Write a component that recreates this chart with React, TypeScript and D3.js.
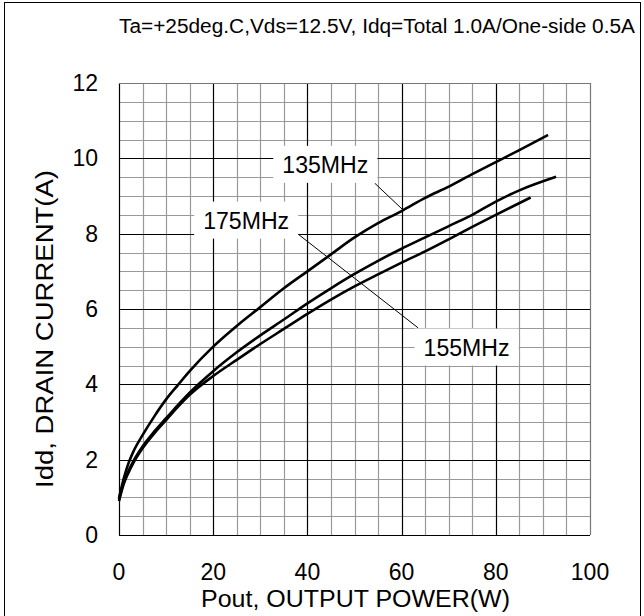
import React, { useEffect, useRef } from "react";
import * as d3 from "d3";

const titleText = "Ta=+25deg.C,Vds=12.5V, Idq=Total 1.0A/One-side 0.5A";
const xTicks = [0, 20, 40, 60, 80, 100];
const yTicks = [0, 2, 4, 6, 8, 10, 12];
const xLabel = "Pout, OUTPUT POWER(W)";
const yLabel = "Idd, DRAIN CURRENT(A)";

// 135MHz (top curve)
const pout135 = [0, 1, 2, 3, 5, 7.5, 10, 12.5, 15, 20, 25, 30, 35, 40, 45, 50, 55, 60, 65, 70, 75, 80, 85, 91.1];
const idd135 = [0.98, 1.5, 1.9, 2.2, 2.65, 3.15, 3.6, 3.98, 4.35, 5.0, 5.55, 6.05, 6.55, 7.0, 7.45, 7.9, 8.28, 8.6, 8.95, 9.25, 9.58, 9.9, 10.22, 10.62];
// middle curve
const poutMid = [0, 1, 2, 3, 5, 7.5, 10, 12.5, 15, 20, 25, 30, 35, 40, 45, 50, 55, 60, 65, 70, 75, 80, 85, 92.8];
const iddMid = [0.95, 1.4, 1.7, 1.95, 2.35, 2.75, 3.1, 3.45, 3.78, 4.35, 4.85, 5.3, 5.72, 6.15, 6.55, 6.93, 7.28, 7.6, 7.9, 8.2, 8.5, 8.85, 9.15, 9.51];
// lower curve
const poutLow = [0, 1, 2, 3, 5, 7.5, 10, 12.5, 15, 20, 25, 30, 35, 40, 45, 50, 55, 60, 65, 70, 75, 80, 87.4];
const iddLow = [0.9, 1.35, 1.65, 1.9, 2.3, 2.7, 3.05, 3.4, 3.72, 4.22, 4.65, 5.07, 5.47, 5.87, 6.25, 6.6, 6.92, 7.23, 7.53, 7.85, 8.18, 8.5, 8.96];

// annotation labels, anchored in data units
const labelNames = ["135MHz", "175MHz", "155MHz"];
const labelX = [43.8, 27.0, 73.8];
const labelY = [9.84, 8.36, 4.99];
// leader lines [x1, y1, x2, y2] in data units
const leaders = [
  [54.3, 9.34, 60.3, 8.63],
  [37.7, 8.02, 63.5, 5.5],
];

export default function App() {
  const ref = useRef<SVGSVGElement>(null);

  useEffect(() => {
    const width = 644;
    const height = 616;
    const margin = { top: 83, left: 119, right: 54, bottom: 81 };
    const innerWidth = width - margin.left - margin.right;
    const innerHeight = height - margin.top - margin.bottom;

    const svg = d3.select(ref.current);
    svg.selectAll("*").remove();
    svg.append("rect").attr("width", width).attr("height", height).attr("fill", "white");
    svg.append("rect").attr("x", 4.5).attr("y", 2.5).attr("width", 636).attr("height", 640)
      .attr("fill", "none").attr("stroke", "black").attr("stroke-width", 1);

    svg.append("text").text(titleText).attr("x", 119).attr("y", 33)
      .attr("font-size", 20).attr("textLength", 516).attr("lengthAdjust", "spacingAndGlyphs");

    const g = svg.append("g").attr("transform", `translate(${margin.left}, ${margin.top})`);
    const xScale = d3.scaleLinear().domain([0, 100]).range([0, innerWidth]);
    const yScale = d3.scaleLinear().domain([0, 12]).range([innerHeight, 0]);

    // minor grid
    const xMinor = d3.range(0, 101, 5).filter(v => v % 20 !== 0);
    const yMinor = d3.range(0, 12.01, 0.5).filter(v => v % 2 !== 0);
    g.selectAll(".vminor").data(xMinor).join("line").attr("class", "vminor")
      .attr("x1", d => Math.round(xScale(d)) + 0.5).attr("x2", d => Math.round(xScale(d)) + 0.5)
      .attr("y1", 0).attr("y2", innerHeight).attr("stroke", "#999").attr("stroke-width", 1.2);
    g.selectAll(".hminor").data(yMinor).join("line").attr("class", "hminor")
      .attr("y1", d => Math.round(yScale(d)) + 0.5).attr("y2", d => Math.round(yScale(d)) + 0.5)
      .attr("x1", 0).attr("x2", innerWidth).attr("stroke", "#999").attr("stroke-width", 1.2);
    // major grid
    g.selectAll(".vmajor").data(xTicks).join("line").attr("class", "vmajor")
      .attr("x1", d => Math.round(xScale(d)) + 0.5).attr("x2", d => Math.round(xScale(d)) + 0.5)
      .attr("y1", 0).attr("y2", innerHeight).attr("stroke", d => d === 100 ? "#777" : "black").attr("stroke-width", 1.2);
    g.selectAll(".hmajor").data(yTicks).join("line").attr("class", "hmajor")
      .attr("y1", d => Math.round(yScale(d)) + 0.5).attr("y2", d => Math.round(yScale(d)) + 0.5)
      .attr("x1", 0).attr("x2", innerWidth).attr("stroke", d => d === 12 ? "#777" : "black").attr("stroke-width", 1.2);

    // tick labels
    g.selectAll(".xt").data(xTicks).join("text").attr("class", "xt").text(d => d)
      .attr("x", d => xScale(d)).attr("y", innerHeight + 45).attr("text-anchor", "middle").attr("font-size", 23);
    g.selectAll(".yt").data(yTicks).join("text").attr("class", "yt").text(d => d)
      .attr("x", -21).attr("y", d => yScale(d) + 8).attr("text-anchor", "end").attr("font-size", 23);

    g.append("text").text(xLabel).attr("x", innerWidth / 2 + 1).attr("y", innerHeight + 72)
      .attr("text-anchor", "middle").attr("font-size", 23)
      .attr("textLength", 309).attr("lengthAdjust", "spacingAndGlyphs");
    g.append("text").text(yLabel).attr("transform", "rotate(-90)")
      .attr("x", -innerHeight / 2 - 20).attr("y", -66).attr("text-anchor", "middle").attr("font-size", 23)
      .attr("textLength", 318).attr("lengthAdjust", "spacingAndGlyphs");

    // curves
    const line = d3.line<[number, number]>().x(d => xScale(d[0])).y(d => yScale(d[1])).curve(d3.curveMonotoneX);
    const series = [
      d3.zip(pout135, idd135) as [number, number][],
      d3.zip(poutMid, iddMid) as [number, number][],
      d3.zip(poutLow, iddLow) as [number, number][],
    ];
    g.selectAll(".curve").data(series).join("path").attr("class", "curve")
      .attr("d", d => line(d)).attr("fill", "none").attr("stroke", "black").attr("stroke-width", 2.6);

    // leader lines
    g.selectAll(".leader").data(leaders).join("line").attr("class", "leader")
      .attr("x1", d => xScale(d[0])).attr("y1", d => yScale(d[1]))
      .attr("x2", d => xScale(d[2])).attr("y2", d => yScale(d[3]))
      .attr("stroke", "black").attr("stroke-width", 1);

    // label boxes
    const labels = labelNames.map((name, i) => ({ name, x: labelX[i], y: labelY[i] }));
    g.selectAll(".lbox").data(labels).join("rect").attr("class", "lbox")
      .attr("x", d => xScale(d.x) - 52).attr("y", d => yScale(d.y) - 18.5)
      .attr("width", 104).attr("height", 37).attr("fill", "white");
    g.selectAll(".ltext").data(labels).join("text").attr("class", "ltext").text(d => d.name)
      .attr("x", d => xScale(d.x)).attr("y", d => yScale(d.y) + 8.5)
      .attr("text-anchor", "middle").attr("font-size", 23)
      .attr("textLength", 86).attr("lengthAdjust", "spacingAndGlyphs");
  }, []);

  return (
    <svg ref={ref} width={644} height={616}
      style={{ position: "absolute", left: 0, top: 0, fontFamily: "Liberation Sans, Arial, sans-serif" }} />
  );
}
